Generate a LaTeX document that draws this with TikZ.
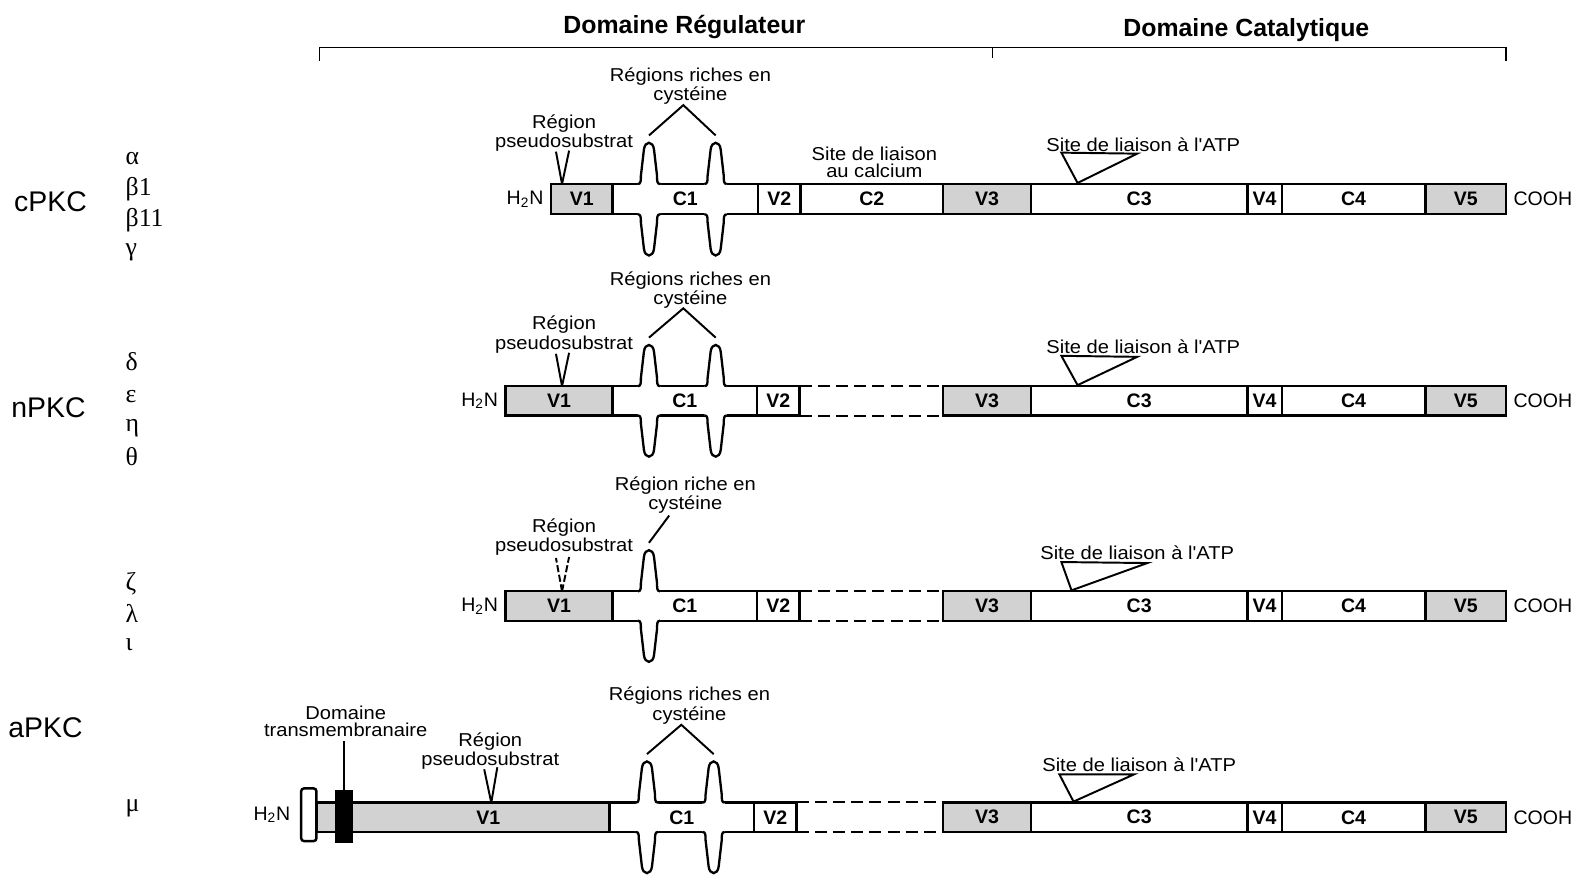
\documentclass[tikz,border=0pt]{standalone}
\usepackage{fontspec}
\setmainfont{Liberation Sans}
\newfontfamily\labfont[FakeStretch=1.08]{Liberation Sans}
\newfontfamily\grk{Liberation Serif}
\usepackage{tikz}
\usetikzlibrary{positioning}
\definecolor{shade}{HTML}{D2D2D2}

\tikzset{
  seg/.style={draw, line width=1.4pt, inner sep=0pt, outer sep=0pt,
    minimum height=0.59cm, font=\bfseries\fontsize{11}{11}\selectfont},
  segtext/.style={inner sep=0pt, font=\bfseries\fontsize{11}{11}\selectfont},
  lab/.style={align=center, inner sep=0pt, font=\labfont\fontsize{10.5}{9.5}\selectfont},
  ends/.style={inner sep=0pt, font=\fontsize{11}{11}\selectfont},
  head/.style={inner sep=0pt, font=\bfseries\fontsize{14}{14}\selectfont},
  fam/.style={inner sep=0pt, font=\fontsize{16}{16}\selectfont},
  greek/.style={inner sep=0pt, anchor=west, font=\grk\fontsize{14.5}{14.5}\selectfont},
  ptr/.style={line width=1.1pt},
  gap/.style={line width=1.1pt, dash pattern=on 0.24cm off 0.12cm},
  finger/.pic={
    \fill[white] (-11,2) -- (-11,0) .. controls (-8,0) and (-8,-3) .. (-8,-8)
      -- (-5,-34) .. controls (-4,-43) and (4,-43) .. (5,-34)
      -- (8,-8) .. controls (8,-3) and (8,0) .. (11,0) -- (11,2) -- cycle;
    \draw[line width=1.3pt] (-11,0) .. controls (-8,0) and (-8,-3) .. (-8,-8)
      -- (-5,-34) .. controls (-4,-43) and (4,-43) .. (5,-34)
      -- (8,-8) .. controls (8,-3) and (8,0) .. (11,0);
    \coordinate (-tip) at (0,-48);
  }
}

\begin{document}
\begin{tikzpicture}[x=0.02cm, y=-0.02cm]
  \useasboundingbox (0,0) rectangle (1568,873);
  % Domains and bracket
  \node[head] (reg) at (677,27) {Domaine Régulateur};
  \node[head] (cat) at (1233,30) {Domaine Catalytique};
  \draw[line width=0.8pt] (316,60) -- (316,47) -- (1490,47) -- (1490,60);
  \draw[line width=0.8pt] (982,47) -- (982,57);
  % Families and isoforms
  \node[fam] (cpkc) at (50,200) {cPKC};
  \node[fam] (npkc) at (48,403) {nPKC};
  \node[fam] (apkc) at (45,720) {aPKC};
  \node[greek] (alpha) at (124,157) {α};
  \node[greek] (beta1) at (124,187) {β1};
  \node[greek] (beta2) at (124,218) {β11};
  \node[greek] (gamma) at (124,250) {γ};
  \node[greek] (delta) at (124,358) {δ};
  \node[greek] (eps) at (124,392) {ε};
  \node[greek] (eta) at (124,424) {η};
  \node[greek] (theta) at (124,452) {θ};
  \node[greek] (zeta) at (124,577) {ζ};
  \node[greek] (lambda) at (124,607) {λ};
  \node[greek] (iota) at (124,638) {ι};
  \node[greek] (mu) at (124,800) {μ};
  % Catalytic half, same in all rows
  \foreach \r/\yc in {1/197, 2/396.5, 3/599.5, 4/808.5} {
    \foreach \nm/\xa/\xb/\fc in {V3/933/1020/shade, C3/1020/1234/white,
        V4/1234/1268/white, C4/1268/1410/white, V5/1410/1490/shade}
      \node[seg, fill=\fc, minimum width={(\xb-\xa)*0.02cm}] (\nm-\r) at ({(\xa+\xb)/2},\yc) {\nm};
    \node[ends, right=4pt of V5-\r] (cooh\r) {COOH};
  }
  % cPKC
  \foreach \nm/\xa/\xb/\fc in {V1/545/606/shade, C1/606/750/white, V2/750/792/white, C2/792/933/white}
    \node[seg, fill=\fc, minimum width={(\xb-\xa)*0.02cm}] (\nm-1) at ({(\xa+\xb)/2},197) {\nm};
  \node[ends, left=4pt of V1-1] (hn1) {H\textsubscript{2}N};
  \pic (fa1) at (642,182) {finger};
  \pic[yscale=-1] at (642,212) {finger};
  \pic (fb1) at (708,182) {finger};
  \pic[yscale=-1] at (708,212) {finger};
  \node[lab] (cys1) at (683,85) {Régions riches en\\cystéine};
  \coordinate (cys1tip) at (676,104);
  \draw[ptr] (fa1-tip) -- (cys1tip) -- (fb1-tip);
  \node[lab] (ps1) at (558,132) {Région\\pseudosubstrat};
  \coordinate (ps1pt) at (556,182);
  \draw[ptr] (ps1pt) -- ++(-6,-32) (ps1pt) -- ++(7,-33);
  \node[lab] (ca1) at (865,161) {Site de liaison\\au calcium};
  \node[lab] (atp1) at (1131,143) {Site de liaison à l'ATP};
  \coordinate (atp1pt) at (1066,181);
  \draw[ptr] (atp1pt) -- ++(-16,-30) -- ++(75,1) -- cycle;
  % nPKC
  \foreach \nm/\xa/\xb/\fc in {V1/500/606/shade, C1/606/749/white, V2/749/791/white}
    \node[seg, fill=\fc, minimum width={(\xb-\xa)*0.02cm}] (\nm-2) at ({(\xa+\xb)/2},396.5) {\nm};
  \node[ends, left=4pt of V1-2] (hn2) {H\textsubscript{2}N};
  \draw[gap] (V2-2.north east) -- (V3-2.north west);
  \draw[gap] (V2-2.south east) -- (V3-2.south west);
  \pic (fa2) at (642,382) {finger};
  \pic[yscale=-1] at (642,411) {finger};
  \pic (fb2) at (708,382) {finger};
  \pic[yscale=-1] at (708,411) {finger};
  \node[lab] (cys2) at (683,287) {Régions riches en\\cystéine};
  \coordinate (cys2tip) at (676,305);
  \draw[ptr] (fa2-tip) -- (cys2tip) -- (fb2-tip);
  \node[lab] (ps2) at (558,331) {Région\\pseudosubstrat};
  \coordinate (ps2pt) at (556,382);
  \draw[ptr] (ps2pt) -- ++(-6,-32) (ps2pt) -- ++(7,-33);
  \node[lab] (atp2) at (1131,343) {Site de liaison à l'ATP};
  \coordinate (atp2pt) at (1066,381);
  \draw[ptr] (atp2pt) -- ++(-16,-29) -- ++(75,1) -- cycle;
  % third row
  \foreach \nm/\xa/\xb/\fc in {V1/500/606/shade, C1/606/749/white, V2/749/791/white}
    \node[seg, fill=\fc, minimum width={(\xb-\xa)*0.02cm}] (\nm-3) at ({(\xa+\xb)/2},599.5) {\nm};
  \node[ends, left=4pt of V1-3] (hn3) {H\textsubscript{2}N};
  \draw[gap] (V2-3.north east) -- (V3-3.north west);
  \draw[gap] (V2-3.south east) -- (V3-3.south west);
  \pic (fa3) at (642,585) {finger};
  \pic[yscale=-1] at (642,614) {finger};
  \node[lab] (cys3) at (678,490) {Région riche en\\cystéine};
  \coordinate (cys3tip) at (662,510);
  \draw[ptr] (fa3-tip) -- (cys3tip);
  \node[lab] (ps3) at (558,531) {Région\\pseudosubstrat};
  \coordinate (ps3pt) at (556,585);
  \draw[ptr, dash pattern=on 4pt off 1.5pt] (ps3pt) -- ++(-6,-33) (ps3pt) -- ++(7,-34);
  \node[lab] (atp3) at (1125,547) {Site de liaison à l'ATP};
  \coordinate (atp3pt) at (1060,584);
  \draw[ptr] (atp3pt) -- ++(-10,-28) -- ++(85,1) -- cycle;
  % mu row
  \node[seg, fill=shade, minimum width=5.8cm] (V1-4) at (458,808.5) {};
  \node[segtext] (v1t4) at (483,808.5) {V1};
  \foreach \nm/\xa/\xb/\fc in {C1/603/746/white, V2/746/788/white}
    \node[seg, fill=\fc, minimum width={(\xb-\xa)*0.02cm}] (\nm-4) at ({(\xa+\xb)/2},808.5) {\nm};
  \node[seg, fill=white, rounded corners=1.5pt, minimum width=0.3cm, minimum height=1.04cm] (cap) at (305.5,806) {};
  \node[seg, fill=black, minimum width=0.3cm, minimum height=1cm] (tmd) at (340.5,808) {};
  \node[ends, left=6pt of cap] (hn4) {H\textsubscript{2}N};
  \draw[gap] (V2-4.north east) -- (V3-4.north west);
  \draw[gap] (V2-4.south east) -- (V3-4.south west);
  \node[lab] (tm4) at (342,714) {Domaine\\transmembranaire};
  \draw[ptr] (tmd.north) -- ++(0,-50);
  \pic (fa4) at (640,794) {finger};
  \pic[yscale=-1] at (640,823) {finger};
  \pic (fb4) at (706,794) {finger};
  \pic[yscale=-1] at (706,823) {finger};
  \node[lab] (cys4) at (682,698) {Régions riches en\\cystéine};
  \coordinate (cys4tip) at (674,717);
  \draw[ptr] (fa4-tip) -- (cys4tip) -- (fb4-tip);
  \node[lab] (ps4) at (485,743) {Région\\pseudosubstrat};
  \coordinate (ps4pt) at (486,794);
  \draw[ptr] (ps4pt) -- ++(-7,-33) (ps4pt) -- ++(6,-35);
  \node[lab] (atp4) at (1127,757) {Site de liaison à l'ATP};
  \coordinate (atp4pt) at (1062,793);
  \draw[ptr] (atp4pt) -- ++(-14,-27) -- ++(74,0) -- cycle;
\end{tikzpicture}
\end{document}
